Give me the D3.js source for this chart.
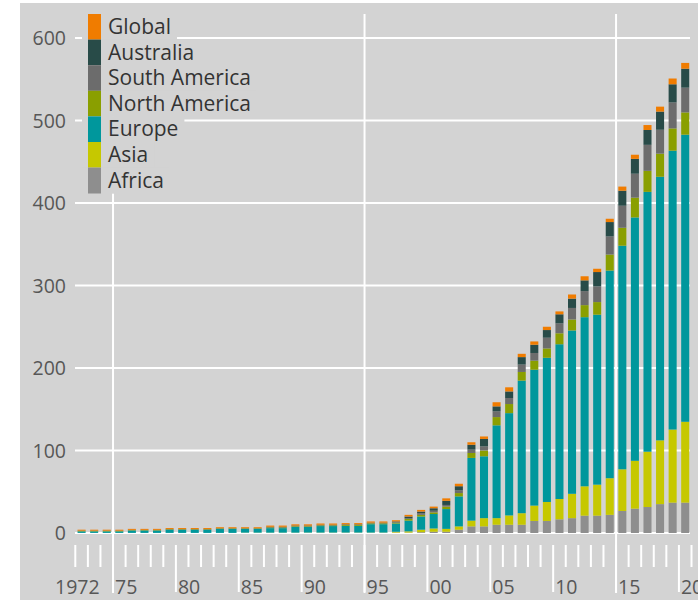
<!DOCTYPE html>
<html>
<head>
<meta charset="utf-8">
<script src="https://cdn.jsdelivr.net/npm/d3@7"></script>
<style>
body { margin: 0; background: #fff; }
text { font-family: "Open Sans", "Noto Sans", sans-serif; }
</style>
</head>
<body>
<svg id="chart" width="698" height="603"></svg>
<script>
var years = [1972, 1973, 1974, 1975, 1976, 1977, 1978, 1979, 1980, 1981, 1982, 1983, 1984,
    1985, 1986, 1987, 1988, 1989, 1990, 1991, 1992, 1993, 1994, 1995, 1996,
    1997, 1998, 1999, 2000, 2001, 2002, 2003, 2004, 2005, 2006, 2007, 2008,
    2009, 2010, 2011, 2012, 2013, 2014, 2015, 2016, 2017, 2018, 2019, 2020]

var africa = [0, 0, 0, 0, 0, 0, 0, 0, 0, 0, 0, 0, 0,
    0.1, 0.1, 0.1, 0.1, 0.1, 0.2, 0.2, 0.2, 0.2, 0.2, 0.2, 0.2,
    0.5, 0.5, 1, 1.5, 1.5, 4, 8, 8, 10, 10, 10, 14.6,
    14.6, 16.6, 18, 21, 21, 22, 26.7, 29.5, 31.5, 35, 36.8, 36.8]
var asia = [0.1, 0.1, 0.1, 0.1, 0.1, 0.1, 0.1, 0.1, 0.1, 0.1, 0.1, 0.1, 0.1,
    0.3, 0.3, 0.3, 0.3, 0.3, 0.3, 0.3, 0.3, 0.3, 0.3, 0.3, 0.3,
    1, 1.5, 3, 4, 3.5, 4, 7, 10, 8, 11.3, 14, 18.6,
    23, 24.6, 29.5, 35.6, 37.6, 44.4, 50.5, 58, 67, 77.3, 88.6, 98]
var europe = [1.9, 1.9, 1.9, 1.9, 2.9, 2.9, 2.9, 3.8, 3.8, 3.8, 3.8, 4.8, 4.8,
    4.5, 4.5, 5.5, 5.5, 7, 6.9, 7.9, 7.9, 8.2, 8.2, 10.2, 10.2,
    10, 13, 16, 17.5, 24, 36.4, 76, 75, 112.5, 124, 160.7, 164.7,
    174.8, 187.6, 198, 205, 206, 251.7, 271, 295, 315, 319.5, 338, 348]
var northAmerica = [0.5, 0.5, 0.5, 0.5, 0.5, 0.5, 0.5, 0.6, 0.6, 0.6, 0.6, 0.6, 0.6,
    0.6, 0.6, 0.8, 0.8, 0.8, 0.8, 0.8, 0.8, 1, 1, 1, 1,
    1, 2, 2, 2, 3, 4, 6, 7, 10, 11, 10.5, 11,
    11.3, 13.3, 13.3, 14.6, 15.3, 19.4, 21.8, 24, 25.5, 28, 27, 27]
var southAmerica = [0.1, 0.1, 0.1, 0.1, 0.1, 0.1, 0.1, 0.1, 0.1, 0.1, 0.1, 0.1, 0.1,
    0.1, 0.1, 0.3, 0.3, 0.3, 0.3, 0.3, 0.3, 0.3, 0.3, 0.3, 0.3,
    0.5, 1, 2, 2, 2, 3.3, 4, 5, 7, 7.3, 9, 9.3,
    13, 12, 14, 17, 19, 22, 26.7, 29, 31.5, 29, 31.5, 30]
var australia = [0.2, 0.2, 0.2, 0.2, 0.2, 0.2, 0.2, 0.2, 0.2, 0.2, 0.2, 0.2, 0.2,
    0.2, 0.2, 0.5, 0.5, 0.5, 0.5, 0.5, 0.5, 0.5, 0.5, 0.5, 0.5,
    1, 2, 2, 3, 5, 5, 6, 9, 6, 8, 9, 10,
    9.3, 11, 11.3, 13, 17.4, 17.4, 18.2, 18, 18, 22, 22, 23]
var global = [1.2, 1.2, 1.2, 1.2, 1.2, 1.2, 1.2, 1.2, 1.2, 1.2, 1.2, 1.2, 1.2,
    1.2, 1.2, 1.5, 1.5, 1.5, 1.5, 1.5, 1.5, 1.5, 1.5, 1.5, 1.5,
    1.5, 2, 2, 2, 3, 3, 3, 3, 5, 5, 4, 4,
    4, 3.5, 5, 5, 4, 4, 5, 5, 6, 6, 7, 7]

var yTicks = [0, 100, 200, 300, 400, 500, 600]
var xLabels = [[1972, "1972"], [1975, "75"], [1980, "80"], [1985, "85"], [1990, "90"], [1995, "95"],
    [2000, "00"], [2005, "05"], [2010, "10"], [2015, "15"], [2020, "20"]]
var xGrid = [1975, 1995, 2015]

var keys = ["Africa", "Asia", "Europe", "North America", "South America", "Australia", "Global"]
var series = [africa, asia, europe, northAmerica, southAmerica, australia, global]
var colors = ["#8e8e8e", "#c6c800", "#00979c", "#8a9f00", "#6c6c6c", "#284b48", "#f07c00"]

var table = years.map(function(yr, i) {
    var row = {year: yr}
    keys.forEach(function(k, j) { row[k] = series[j][i] })
    return row
})

var svg = d3.select("#chart")
var bg = "#d3d3d3"
var ink = "#575757"

svg.append("rect").attr("x", 20).attr("y", 3).attr("width", 678).attr("height", 597).attr("fill", bg)

var x = d3.scaleBand().domain(years).range([75.3, 691.5]).paddingInner(0.36).paddingOuter(0.18)
var xt = d3.scaleLinear().domain([1972, 2021]).range([75.3, 691.5])
var y = d3.scaleLinear().domain([0, 600]).range([533, 38])

// grid
svg.append("g").selectAll("line").data(yTicks).join("line")
    .attr("x1", 75).attr("x2", 690)
    .attr("y1", function(d) { return y(d) }).attr("y2", function(d) { return y(d) })
    .attr("stroke", "#fff").attr("stroke-width", 2)
svg.append("g").selectAll("line").data(xGrid).join("line")
    .attr("x1", function(d) { return xt(d) }).attr("x2", function(d) { return xt(d) })
    .attr("y1", 14).attr("y2", 593)
    .attr("stroke", "#fff").attr("stroke-width", 2)

// year ticks
svg.append("g").selectAll("line").data(d3.range(1972, 2022)).join("line")
    .attr("x1", function(d) { return xt(d) }).attr("x2", function(d) { return xt(d) })
    .attr("y1", 545).attr("y2", function(d) { return d % 5 == 0 ? 592 : 567 })
    .attr("stroke", "#fff").attr("stroke-width", 2)

var stacked = d3.stack().keys(keys)(table)
svg.append("g").selectAll("g").data(stacked).join("g")
    .attr("fill", function(d, i) { return colors[i] })
    .selectAll("rect").data(function(d) { return d }).join("rect")
    .attr("x", function(d) { return x(d.data.year) })
    .attr("width", x.bandwidth())
    .attr("y", function(d) { return y(d[1]) })
    .attr("height", function(d) { return y(d[0]) - y(d[1]) })

// axis labels
svg.append("g").selectAll("text").data(yTicks).join("text")
    .attr("x", 66).attr("y", function(d) { return y(d) + 7 })
    .attr("text-anchor", "end").attr("font-size", "19.5px").attr("fill", ink)
    .text(function(d) { return d })
svg.append("g").selectAll("text").data(xLabels).join("text")
    .attr("x", function(d) { return d[0] == 1972 ? xt(d[0]) + 2 : xt(d[0]) + 2 })
    .attr("y", 594)
    .attr("text-anchor", function(d) { return d[0] == 1972 ? "middle" : "start" })
    .attr("font-size", "19.5px").attr("fill", ink)
    .text(function(d) { return d[1] })

// legend, top item first
var legend = svg.append("g")
var rowH = 25.6
keys.slice().reverse().forEach(function(k, i) {
    var top = 14 + i * rowH
    var g = legend.append("g")
    var bgr = g.append("rect").attr("x", 82).attr("y", top).attr("height", rowH + 0.5).attr("fill", bg)
    g.append("rect").attr("x", 88).attr("y", top).attr("width", 13).attr("height", rowH + 0.3)
        .attr("fill", colors[keys.length - 1 - i])
    var t = g.append("text").attr("x", 108).attr("y", top + 20)
        .attr("font-size", "21px").attr("fill", "#333")
        .text(k)
    bgr.attr("width", t.node().getComputedTextLength() + 32)
})
</script>
</body>
</html>
